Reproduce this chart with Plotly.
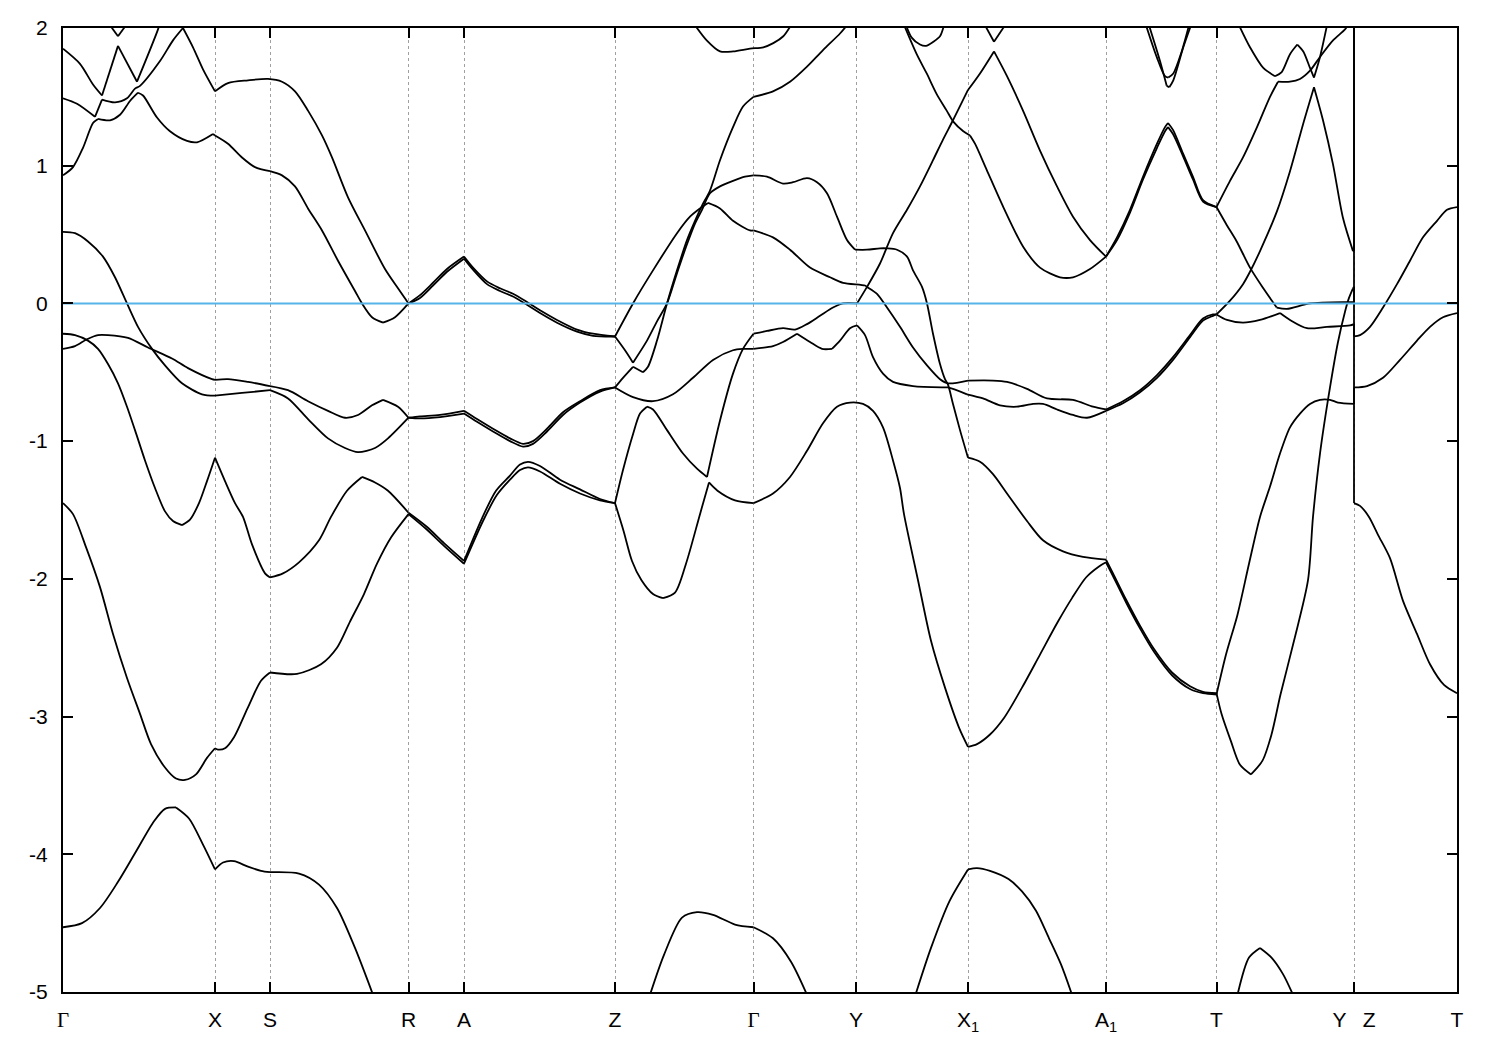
import math
import plotly.graph_objects as go

# High-symmetry points along the k-path (path units) and their labels
k_ticks = [0.0, 1.52, 2.07, 3.455, 4.01, 5.52, 6.905, 7.93, 9.05, 10.43, 11.535, 12.91, 13.94]
GAMMA = '<span style="font-family:Liberation Serif">Γ</span>'
k_labels = [GAMMA, "X", "S", "R", "A", "Z", GAMMA, "Y", "X<sub>1</sub>", "A<sub>1</sub>", "T",
            "Y\u2002\u00a0Z", "T"]
e_ticks = [-5, -4, -3, -2, -1, 0, 1, 2]
e_labels = ["-5", "-4", "-3", "-2", "-1", "0", "1", "2"]
fermi_level = 0.0

# Band energies (k, E in eV)
band_low_a = [(0.00,-4.53),(0.19,-4.50),(0.37,-4.39),(0.55,-4.20),(0.73,-3.98),(0.91,-3.76),(1.02,-3.67),
              (1.13,-3.66),(1.26,-3.74),(1.40,-3.93),(1.52,-4.11),(1.60,-4.06),(1.71,-4.05),(1.85,-4.09),
              (1.98,-4.12),(2.07,-4.13),(2.36,-4.14),(2.56,-4.22),(2.74,-4.39),(2.92,-4.68),(3.10,-5.02)]
band_low_b = [(5.87,-5.02),(6.01,-4.73),(6.19,-4.46),(6.34,-4.42),(6.50,-4.44),(6.72,-4.51),(6.905,-4.53),
              (7.10,-4.61),(7.28,-4.78),(7.44,-5.02)]
band_low_c = [(8.525,-5.02),(8.68,-4.68),(8.865,-4.34),(9.05,-4.11),(9.14,-4.10),(9.27,-4.12),(9.455,-4.18),
              (9.59,-4.27),(9.73,-4.41),(9.86,-4.61),(9.98,-4.80),(10.09,-5.02)]
band_low_d = [(11.745,-5.02),(11.86,-4.75),(11.97,-4.68),(12.085,-4.75),(12.20,-4.87),(12.30,-5.02)]

band_2 = [(0.00,-1.45),(0.10,-1.53),(0.23,-1.77),(0.37,-2.06),(0.50,-2.40),(0.64,-2.72),(0.77,-2.98),
          (0.88,-3.20),(1.02,-3.37),(1.13,-3.45),(1.22,-3.46),(1.33,-3.42),(1.44,-3.30),(1.52,-3.23),
          (1.55,-3.24),(1.62,-3.23),(1.71,-3.15),(1.845,-2.94),(1.98,-2.74),(2.07,-2.68),(2.34,-2.69),
          (2.58,-2.62),(2.74,-2.50),(2.87,-2.31),(3.01,-2.11),(3.14,-1.89),(3.28,-1.70),(3.455,-1.53),
          (3.635,-1.64),(3.81,-1.76),(4.01,-1.89),(4.20,-1.58),(4.34,-1.39),(4.47,-1.28),(4.57,-1.21),
          (4.65,-1.19),(4.77,-1.22),(4.97,-1.31),(5.17,-1.38),(5.37,-1.43),(5.52,-1.45),(5.605,-1.65),
          (5.69,-1.87),(5.785,-2.01),(5.90,-2.11),(6.00,-2.14),(6.12,-2.10),(6.23,-1.89),(6.37,-1.53),
          (6.46,-1.30),(6.545,-1.36),(6.72,-1.43),(6.905,-1.45),(7.10,-1.38),(7.27,-1.26),(7.44,-1.07),
          (7.60,-0.87),(7.74,-0.75),(7.87,-0.72),(8.00,-0.73),(8.10,-0.78),(8.20,-0.90),(8.30,-1.14),
          (8.37,-1.34),(8.41,-1.53),(8.55,-2.01),(8.68,-2.45),(8.82,-2.79),(8.96,-3.08),(9.05,-3.22),
          (9.14,-3.20),(9.27,-3.13),(9.41,-3.01),(9.59,-2.79),(9.77,-2.55),(9.95,-2.31),(10.09,-2.14),
          (10.23,-1.99),(10.36,-1.91),(10.43,-1.88),(10.50,-1.98),(10.63,-2.17),(10.77,-2.36),(10.91,-2.53),
          (11.09,-2.70),(11.27,-2.80),(11.40,-2.83),(11.535,-2.84),(11.63,-2.55),(11.745,-2.26),
          (11.86,-1.89),(11.97,-1.55),(12.07,-1.33),(12.17,-1.09),(12.27,-0.90),(12.37,-0.80),
          (12.47,-0.73),(12.57,-0.70),(12.67,-0.70),(12.75,-0.72),(12.91,-0.73),(12.91,-0.61),
          (13.04,-0.60),(13.20,-0.54),(13.37,-0.41),(13.54,-0.27),(13.67,-0.17),(13.80,-0.10),(13.94,-0.07)]

band_3 = [(0.00,-0.22),(0.12,-0.23),(0.25,-0.27),(0.35,-0.33),(0.45,-0.44),(0.55,-0.58),(0.64,-0.75),
          (0.72,-0.92),(0.82,-1.14),(0.92,-1.34),(1.02,-1.51),(1.10,-1.58),(1.19,-1.61),(1.27,-1.57),
          (1.36,-1.45),(1.44,-1.29),(1.52,-1.12),(1.62,-1.29),(1.72,-1.45),(1.80,-1.55),(1.89,-1.75),
          (2.02,-1.96),(2.07,-1.99),(2.20,-1.96),(2.36,-1.88),(2.56,-1.72),(2.68,-1.55),(2.84,-1.36),
          (2.99,-1.26),(3.12,-1.30),(3.25,-1.36),(3.455,-1.52),(3.635,-1.62),(3.81,-1.74),(4.01,-1.87),
          (4.19,-1.56),(4.33,-1.36),(4.47,-1.25),(4.57,-1.17),(4.65,-1.15),(4.77,-1.18),(4.97,-1.28),
          (5.17,-1.35),(5.37,-1.42),(5.52,-1.45),(5.60,-1.21),(5.70,-0.95),(5.77,-0.80),(5.84,-0.75),
          (5.90,-0.77),(6.04,-0.92),(6.20,-1.09),(6.34,-1.20),(6.44,-1.26),(6.57,-0.85),(6.70,-0.51),
          (6.80,-0.33),(6.905,-0.22),(7.04,-0.20),(7.20,-0.18),(7.32,-0.19),(7.44,-0.15),(7.57,-0.09),
          (7.70,-0.03),(7.80,0.00),(7.94,0.00),(8.04,0.12),(8.17,0.29),(8.30,0.51),(8.44,0.68),
          (8.57,0.85),(8.70,1.04),(8.80,1.19),(8.90,1.33),(9.05,1.55),(9.17,1.67),(9.31,1.83),
          (9.44,1.65),(9.60,1.40),(9.77,1.11),(9.94,0.85),(10.10,0.63),(10.27,0.46),(10.43,0.34),
          (10.54,0.48),(10.67,0.68),(10.80,0.92),(10.94,1.16),(11.02,1.28),(11.05,1.31),(11.10,1.26),
          (11.20,1.09),(11.30,0.92),(11.40,0.75),(11.535,0.70),(11.67,0.89),(11.80,1.06),(11.94,1.28),
          (12.07,1.50),(12.15,1.61),(12.27,1.61),(12.37,1.63),(12.47,1.69),(12.57,1.79),(12.70,1.91),
          (12.82,1.99),(12.86,2.03)]

band_4 = [(0.00,-0.33),(0.12,-0.31),(0.24,-0.26),(0.35,-0.23),(0.45,-0.23),(0.65,-0.25),(0.85,-0.32),
          (1.09,-0.40),(1.25,-0.47),(1.49,-0.55),(1.52,-0.555),(1.65,-0.55),(1.85,-0.57),(2.07,-0.60),
          (2.25,-0.63),(2.45,-0.71),(2.65,-0.78),(2.82,-0.83),(2.95,-0.81),(3.09,-0.74),(3.20,-0.70),
          (3.35,-0.75),(3.455,-0.83),(3.57,-0.82),(3.77,-0.81),(4.01,-0.78),(4.14,-0.84),(4.30,-0.91),
          (4.47,-0.98),(4.60,-1.02),(4.70,-1.00),(4.84,-0.91),(5.00,-0.79),(5.17,-0.71),(5.37,-0.63),
          (5.52,-0.61),(5.60,-0.54),(5.70,-0.46),(5.80,-0.50),(5.85,-0.46),(5.94,-0.27),(6.04,0.00),
          (6.14,0.24),(6.24,0.46),(6.32,0.60),(6.39,0.71),(6.47,0.82),(6.57,1.04),(6.70,1.28),
          (6.80,1.43),(6.905,1.50),(7.10,1.54),(7.27,1.61),(7.44,1.72),(7.60,1.84),(7.77,1.96),(7.84,2.02)]

band_5 = [(0.00,0.52),(0.12,0.51),(0.25,0.45),(0.40,0.34),(0.52,0.19),(0.64,0.00),(0.75,-0.17),
          (0.89,-0.33),(1.02,-0.45),(1.19,-0.58),(1.39,-0.66),(1.52,-0.67),(1.79,-0.65),(2.07,-0.63),
          (2.25,-0.69),(2.45,-0.84),(2.65,-0.98),(2.82,-1.05),(2.95,-1.08),(3.12,-1.05),(3.25,-0.98),
          (3.455,-0.83),(3.57,-0.835),(3.77,-0.825),(4.01,-0.80),(4.14,-0.86),(4.30,-0.93),(4.47,-1.00),
          (4.60,-1.04),(4.70,-1.02),(4.84,-0.93),(5.00,-0.81),(5.17,-0.72),(5.37,-0.64),(5.52,-0.61),
          (5.70,-0.68),(5.90,-0.71),(6.10,-0.66),(6.30,-0.54),(6.50,-0.41),(6.70,-0.34),(6.80,-0.33),
          (6.905,-0.33),(7.10,-0.31),(7.20,-0.28),(7.34,-0.22),(7.47,-0.28),(7.59,-0.33),(7.69,-0.33),
          (7.77,-0.27),(7.87,-0.18),(7.94,-0.16),(8.02,-0.23),(8.10,-0.39),(8.20,-0.51),(8.30,-0.57),
          (8.50,-0.60),(8.80,-0.61),(8.85,-0.61),(9.04,-0.66),(9.20,-0.69),(9.37,-0.74),(9.54,-0.75),
          (9.70,-0.73),(9.80,-0.73),(9.94,-0.77),(10.10,-0.81),(10.24,-0.83),(10.43,-0.78),
          (10.60,-0.725),(10.77,-0.645),(10.94,-0.54),(11.10,-0.41),(11.27,-0.245),(11.40,-0.125),
          (11.50,-0.09),(11.535,-0.08),(11.64,-0.12),(11.80,-0.14),(11.97,-0.12),(12.17,-0.07),
          (12.27,-0.12),(12.44,-0.18),(12.64,-0.17),(12.87,-0.16),(12.91,-0.15),(12.91,-1.45),
          (12.97,-1.47),(13.06,-1.55),(13.15,-1.68),(13.27,-1.85),(13.40,-2.16),(13.54,-2.40),
          (13.67,-2.62),(13.81,-2.77),(13.94,-2.83)]

band_6 = [(0.00,0.93),(0.10,0.99),(0.20,1.13),(0.30,1.31),(0.35,1.34),(0.47,1.33),(0.57,1.37),(0.67,1.47),
          (0.75,1.53),(0.80,1.51),(0.94,1.35),(1.07,1.25),(1.24,1.18),(1.34,1.17),(1.50,1.23),(1.52,1.22),
          (1.65,1.16),(1.79,1.06),(1.92,0.99),(2.07,0.96),(2.19,0.93),(2.32,0.85),(2.45,0.69),(2.59,0.53),
          (2.75,0.31),(2.92,0.09),(2.99,0.00),(3.09,-0.10),(3.20,-0.14),(3.32,-0.10),(3.455,0.00),
          (3.57,0.04),(3.70,0.13),(3.84,0.23),(4.01,0.325),(4.10,0.245),(4.24,0.14),(4.37,0.09),
          (4.50,0.05),(4.64,-0.01),(4.77,-0.07),(4.94,-0.14),(5.14,-0.205),(5.30,-0.235),(5.52,-0.24),
          (5.62,-0.34),(5.70,-0.43),(5.84,-0.27),(5.94,-0.13),(6.04,0.00),(6.14,0.22),(6.24,0.43),
          (6.32,0.58),(6.39,0.68),(6.47,0.80),(6.57,0.85),(6.70,0.89),(6.82,0.92),(6.905,0.93),
          (7.04,0.92),(7.20,0.87),(7.30,0.88),(7.44,0.91),(7.54,0.88),(7.64,0.80),(7.74,0.63),
          (7.84,0.46),(7.92,0.39),(8.04,0.39),(8.17,0.40),(8.24,0.40),(8.34,0.39),(8.44,0.34),
          (8.50,0.24),(8.59,0.12),(8.64,0.00),(8.70,-0.22),(8.77,-0.44),(8.82,-0.55),(8.85,-0.59),
          (8.90,-0.73),(8.97,-0.92),(9.05,-1.12),(9.17,-1.15),(9.30,-1.24),(9.44,-1.38),(9.64,-1.58),
          (9.80,-1.72),(10.00,-1.80),(10.20,-1.84),(10.43,-1.86),(10.50,-1.96),(10.63,-2.15),
          (10.77,-2.34),(10.91,-2.51),(11.09,-2.68),(11.27,-2.78),(11.40,-2.82),(11.535,-2.83),
          (11.585,-2.98),(11.68,-3.18),(11.77,-3.35),(11.88,-3.42),(11.995,-3.32),(12.085,-3.13),
          (12.175,-2.84),(12.31,-2.45),(12.45,-2.01),(12.50,-1.55),(12.57,-1.09),(12.67,-0.61),
          (12.75,-0.28),(12.82,-0.06),(12.86,0.04),(12.90,0.11),(12.91,0.12),(12.91,-0.24),
          (12.97,-0.23),(13.07,-0.17),(13.20,-0.03),(13.34,0.14),(13.47,0.31),(13.60,0.48),
          (13.74,0.60),(13.84,0.68),(13.94,0.70)]

band_7 = [(0.00,1.49),(0.14,1.45),(0.32,1.355),(0.39,1.48),(0.52,1.46),(0.64,1.49),(0.72,1.56),(0.77,1.58),
          (0.97,1.76),(1.10,1.91),(1.20,2.00),(1.30,1.86),(1.40,1.70),(1.52,1.54),(1.65,1.60),(1.85,1.62),
          (2.05,1.63),(2.19,1.61),(2.32,1.54),(2.45,1.40),(2.59,1.22),(2.69,1.06),(2.85,0.77),(3.02,0.53),
          (3.22,0.25),(3.35,0.11),(3.455,0.00),(3.57,0.06),(3.70,0.15),(3.84,0.25),(4.01,0.34),
          (4.10,0.26),(4.24,0.16),(4.37,0.11),(4.50,0.07),(4.64,0.01),(4.77,-0.05),(4.94,-0.12),
          (5.14,-0.19),(5.30,-0.22),(5.52,-0.24),(5.70,0.00),(5.90,0.24),(6.14,0.51),(6.27,0.63),
          (6.37,0.69),(6.45,0.73),(6.57,0.69),(6.70,0.60),(6.87,0.53),(6.905,0.53),(7.10,0.48),
          (7.27,0.39),(7.47,0.26),(7.67,0.19),(7.80,0.15),(8.02,0.13),(8.04,0.12),(8.14,0.07),
          (8.24,-0.03),(8.37,-0.17),(8.50,-0.32),(8.64,-0.45),(8.77,-0.55),(8.85,-0.58),(9.05,-0.56),
          (9.30,-0.56),(9.44,-0.57),(9.64,-0.62),(9.84,-0.69),(10.10,-0.70),(10.30,-0.75),(10.43,-0.77),
          (10.60,-0.71),(10.77,-0.63),(10.94,-0.52),(11.10,-0.39),(11.27,-0.23),(11.40,-0.11),
          (11.50,-0.08),(11.535,-0.08),(11.67,0.02),(11.80,0.14),(11.87,0.23),(11.97,0.38),(12.14,0.67),
          (12.27,0.96),(12.40,1.30),(12.51,1.57),(12.60,1.33),(12.70,1.01),(12.80,0.62),(12.90,0.38),
          (12.91,0.38),(12.91,2.05)]

band_8 = [(8.40,2.04),(8.537,1.81),(8.637,1.67),(8.737,1.52),(8.837,1.40),(8.903,1.32),(9.003,1.25),
          (9.07,1.22),(9.12,1.16),(9.237,0.97),(9.403,0.70),(9.603,0.41),(9.77,0.26),(9.97,0.19),
          (10.10,0.19),(10.27,0.25),(10.43,0.34),(10.54,0.46),(10.67,0.66),(10.80,0.90),(10.94,1.13),
          (11.02,1.25),(11.05,1.28),(11.10,1.23),(11.20,1.07),(11.30,0.90),(11.40,0.74),(11.535,0.70),
          (11.637,0.57),(11.737,0.45),(11.87,0.26),(12.003,0.11),(12.137,-0.03),(12.237,-0.04),
          (12.47,0.00),(12.837,0.01),(12.91,0.01),(12.91,2.05)]

band_9 = [(0.00,1.85),(0.17,1.74),(0.30,1.59),(0.39,1.51),(0.55,1.87),(0.74,1.61),(0.95,1.99),(0.97,2.04)]

cap_1 = [(0.44,2.05),(0.55,1.94),(0.66,2.05)]
cap_2 = [(6.32,2.02),(6.437,1.91),(6.57,1.83),(6.703,1.83),(6.87,1.85),(7.003,1.86),(7.103,1.89),
         (7.203,1.94),(7.28,2.02)]
cap_3 = [(8.43,2.02),(8.487,1.93),(8.57,1.88),(8.63,1.87),(8.703,1.90),(8.77,1.94),(8.81,2.02)]
cap_4 = [(9.22,2.02),(9.31,1.90),(9.42,2.02)]
cap_5 = [(10.83,2.02),(10.937,1.79),(11.02,1.65),(11.053,1.64),(11.103,1.67),(11.187,1.83),(11.26,2.02)]
cap_6 = [(10.86,2.02),(10.97,1.76),(11.037,1.58),(11.063,1.57),(11.103,1.62),(11.203,1.86),(11.28,2.02)]
cap_7 = [(11.76,2.02),(11.87,1.86),(12.003,1.71),(12.12,1.65),(12.187,1.68),(12.27,1.81),(12.343,1.88),
         (12.403,1.83),(12.47,1.71),(12.51,1.64),(12.57,1.79),(12.64,2.02)]

bands = [band_low_a, band_low_b, band_low_c, band_low_d, band_2, band_3, band_4, band_5,
         band_6, band_7, band_8, band_9, cap_1, cap_2, cap_3, cap_4, cap_5, cap_6, cap_7]


def split_at_kinks(pts, max_turn_deg=45.0):
    """Split a polyline at high-symmetry points and sharp corners, so each
    smooth piece can be drawn as a spline while true kinks stay sharp."""
    sx, sy = 100.0, 137.5  # approximate on-screen aspect per k unit / per eV
    pieces, cur = [], [pts[0]]
    for i in range(1, len(pts)):
        cur.append(pts[i])
        if i == len(pts) - 1:
            break
        at_tick = any(abs(pts[i][0] - t) < 0.02 for t in k_ticks)
        ax = (pts[i][0] - pts[i - 1][0]) * sx
        ay = (pts[i][1] - pts[i - 1][1]) * sy
        bx = (pts[i + 1][0] - pts[i][0]) * sx
        by = (pts[i + 1][1] - pts[i][1]) * sy
        na, nb = math.hypot(ax, ay), math.hypot(bx, by)
        turn = 0.0
        if na > 0 and nb > 0:
            c = max(-1.0, min(1.0, (ax * bx + ay * by) / (na * nb)))
            turn = math.degrees(math.acos(c))
        if at_tick or turn > max_turn_deg:
            pieces.append(cur)
            cur = [pts[i]]
    pieces.append(cur)
    return pieces


fig = go.Figure()
for pts in bands:
    for piece in split_at_kinks(pts):
        fig.add_trace(go.Scatter(
            x=[p[0] for p in piece], y=[p[1] for p in piece], mode="lines",
            line=dict(color="black", width=1.8, shape="spline", smoothing=0.8),
            hoverinfo="skip", showlegend=False))

fig.add_trace(go.Scatter(
    x=[k_ticks[0], k_ticks[-1]], y=[fermi_level, fermi_level], mode="lines",
    line=dict(color="#56b4e9", width=2), hoverinfo="skip", showlegend=False))

fig.update_layout(
    width=1500, height=1050, autosize=False,
    margin=dict(l=63, r=43, t=28, b=58),
    plot_bgcolor="white", paper_bgcolor="white",
    font=dict(family="Liberation Sans, Arial, sans-serif", size=21, color="black"),
    showlegend=False,
)
fig.update_xaxes(
    range=[k_ticks[0], k_ticks[-1]], tickmode="array", tickvals=k_ticks, ticktext=k_labels,
    ticks="inside", ticklen=10, tickwidth=1.5, tickcolor="black",
    showline=True, linecolor="black", linewidth=2, mirror="allticks",
    showgrid=True, gridcolor="#a0a0a0", gridwidth=1, griddash="3px,3px",
    zeroline=False, ticklabelstandoff=8,
)
fig.update_yaxes(
    range=[-5, 2], tickmode="array", tickvals=e_ticks, ticktext=e_labels,
    ticks="inside", ticklen=10, tickwidth=1.5, tickcolor="black",
    showline=True, linecolor="black", linewidth=2, mirror="allticks",
    showgrid=False, zeroline=False, ticklabelstandoff=9,
)

# Remove the browser's default page margin so the figure sits at the window origin.
fig.write_html("out.html", config={"displayModeBar": False},
               post_script="document.body.style.margin='0px';")
